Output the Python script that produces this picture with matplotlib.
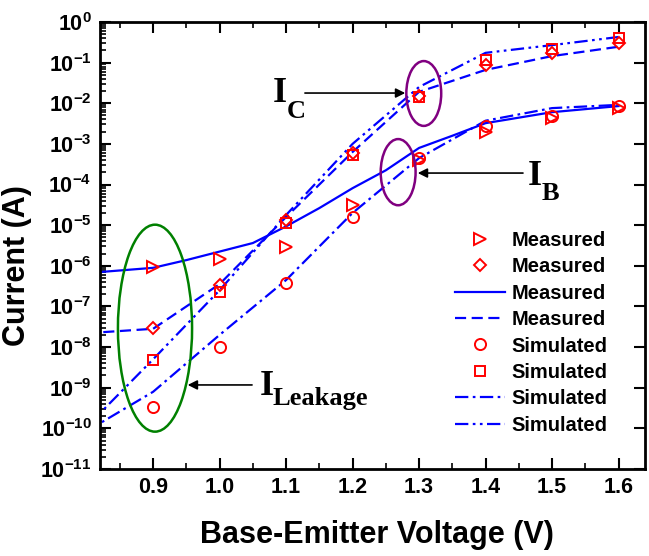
import numpy as np
import matplotlib
matplotlib.use('Agg')
import matplotlib.pyplot as plt
from matplotlib.patches import Ellipse
from matplotlib.ticker import LogLocator, FuncFormatter, NullFormatter, MultipleLocator

plt.rcParams['font.family'] = ['Liberation Sans', 'DejaVu Sans']
plt.rcParams['font.weight'] = 'bold'
plt.rcParams['mathtext.fontset'] = 'custom'
plt.rcParams['mathtext.rm'] = 'Liberation Sans:bold'
plt.rcParams['mathtext.bf'] = 'Liberation Sans:bold'
plt.rcParams['mathtext.it'] = 'Liberation Sans:bold'

# marker data (log10 of current in A)
vbe_pts = [0.9, 1.0, 1.1, 1.2, 1.3, 1.4, 1.5, 1.6]
ib_meas_log = [-6.03, -5.84, -5.54, -4.51, -3.40, -2.70, -2.36, -2.12]
ic_meas_log = [-7.54, -6.48, -4.88, -3.23, -1.82, -1.06, -0.76, -0.52]
ib_sim_log = [-9.48, -8.00, -6.43, -4.80, -3.35, -2.56, -2.31, -2.07]
ic_sim_log = [-8.33, -6.65, -4.95, -3.27, -1.85, -0.94, -0.67, -0.39]

# curves
vbe_solid = [0.80, 0.90, 0.95, 1.00, 1.05, 1.10, 1.15, 1.20, 1.25, 1.30, 1.35, 1.40, 1.50, 1.60]
ib_line_log = [-6.18, -6.05, -5.86, -5.65, -5.44, -5.03, -4.58, -4.09, -3.65, -3.10, -2.80, -2.49, -2.22, -2.07]
vbe_line = [0.8, 0.9, 1.0, 1.1, 1.2, 1.3, 1.4, 1.5, 1.6]
ic_meas_line_log = [-7.66, -7.55, -6.45, -4.80, -3.20, -1.72, -1.18, -0.84, -0.61]
ib_sim_line_log = [-10.07, -9.10, -7.70, -6.35, -4.70, -3.35, -2.43, -2.12, -2.04]
ic_sim_line_log = [-9.96, -8.30, -6.60, -4.75, -3.00, -1.60, -0.76, -0.57, -0.37]

fig = plt.figure(figsize=(6.49, 5.56), dpi=100)
ax = fig.add_axes([0.154, 0.1565, 0.840, 0.804])

red = '#ff0000'
blue = '#0000ff'
mk = dict(linestyle='none', mfc='none', mec=red, mew=1.4, zorder=5)

ax.plot(vbe_pts, 10 ** np.array(ib_meas_log), marker='>', ms=9, label='Measured', **mk)
ax.plot(vbe_pts, 10 ** np.array(ic_meas_log), marker='D', ms=6.5, label='Measured', **mk)
ax.plot(vbe_solid, 10 ** np.array(ib_line_log), color=blue, lw=1.6, label='Measured')
ax.plot(vbe_line, 10 ** np.array(ic_meas_line_log), color=blue, lw=1.6,
        linestyle=(0, (5, 2.5)), label='Measured')
ax.plot(vbe_pts, 10 ** np.array(ib_sim_log), marker='o', ms=8, label='Simulated', **mk)
ax.plot(vbe_pts, 10 ** np.array(ic_sim_log), marker='s', ms=7, label='Simulated', **mk)
ax.plot(vbe_line, 10 ** np.array(ib_sim_line_log), color=blue, lw=1.6,
        linestyle=(0, (6, 2, 1.2, 2)), label='Simulated')
ax.plot(vbe_line, 10 ** np.array(ic_sim_line_log), color=blue, lw=1.6,
        linestyle=(0, (6, 2, 1.2, 2, 1.2, 2)), label='Simulated')

ax.set_xlim(0.82, 1.64)
ax.set_yscale('log')
ax.set_ylim(1e-11, 1)
ax.set_xticks([0.9, 1.0, 1.1, 1.2, 1.3, 1.4, 1.5, 1.6])
ax.xaxis.set_minor_locator(MultipleLocator(0.05))
ax.yaxis.set_major_locator(LogLocator(base=10, numticks=20))
ax.yaxis.set_minor_locator(LogLocator(base=10, subs=np.arange(2, 10), numticks=20))
ax.yaxis.set_major_formatter(FuncFormatter(lambda v, p: r'$10^{%d}$' % round(np.log10(v))))
ax.yaxis.set_minor_formatter(NullFormatter())

ax.tick_params(which='both', direction='in', top=True, right=True, labelsize=15.5)
ax.tick_params(which='major', length=8, width=1.5, pad=6)
ax.tick_params(which='minor', length=4.5, width=1.2)
ax.tick_params(axis='y', which='minor', right=False)
for s in ax.spines.values():
    s.set_linewidth(2)

ax.set_xlabel('Base-Emitter Voltage (V)', fontsize=22, fontweight='bold')
ax.set_ylabel('Current (A)', fontsize=22, fontweight='bold')
ax.xaxis.set_label_coords(0.508, -0.115)
ax.yaxis.set_label_coords(-0.125, 0.456)

leg = ax.legend(loc='upper left', bbox_to_anchor=(0.651, 0.533), frameon=False,
                fontsize=14.5, handlelength=2.5, handletextpad=0.3,
                labelspacing=0.37, borderpad=0, borderaxespad=0)

# ellipses
ax.add_patch(Ellipse((0.101, 0.315), 0.136, 0.463, transform=ax.transAxes,
                     fill=False, ec='#008000', lw=1.8, zorder=6))
ax.add_patch(Ellipse((0.594, 0.840), 0.064, 0.145, transform=ax.transAxes,
                     fill=False, ec='#800080', lw=1.8, zorder=6))
ax.add_patch(Ellipse((0.547, 0.664), 0.064, 0.148, transform=ax.transAxes,
                     fill=False, ec='#800080', lw=1.8, zorder=6))

# arrows and labels
arr = dict(arrowstyle='-|>', color='black', lw=1.2, mutation_scale=14, shrinkA=0, shrinkB=0)
ax.annotate('', xy=(0.560, 0.841), xytext=(0.376, 0.841), xycoords='axes fraction', arrowprops=arr)
ax.annotate('', xy=(0.583, 0.662), xytext=(0.776, 0.662), xycoords='axes fraction', arrowprops=arr)
ax.annotate('', xy=(0.161, 0.188), xytext=(0.279, 0.188), xycoords='axes fraction', arrowprops=arr)

serif = dict(family='Liberation Serif', fontweight='bold', transform=ax.transAxes, va='baseline')
ax.text(0.317, 0.821, 'I', fontsize=26, **serif)
ax.text(0.343, 0.785, 'C', fontsize=19, **serif)
ax.text(0.785, 0.635, 'I', fontsize=26, **serif)
ax.text(0.811, 0.602, 'B', fontsize=19, **serif)
ax.text(0.294, 0.166, 'I', fontsize=26, **serif)
ax.text(0.317, 0.143, 'Leakage', fontsize=19, **serif)

fig.savefig('out.png', dpi=100)
